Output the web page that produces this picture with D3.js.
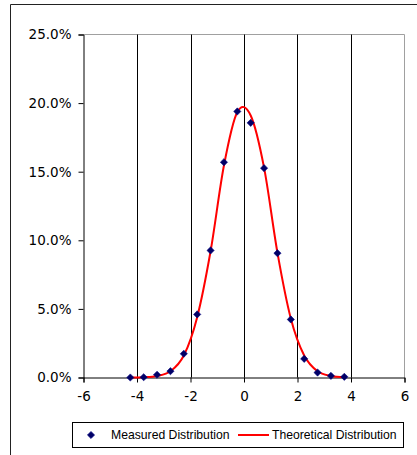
<!DOCTYPE html>
<html><head><meta charset="utf-8">
<script src="https://cdn.jsdelivr.net/npm/d3@7"></script>
<style>html,body{margin:0;padding:0;background:#fff;}svg{display:block;}</style>
</head><body>
<script>
const xValues = [-4.25,-3.75,-3.25,-2.75,-2.25,-1.75,-1.25,-0.75,-0.25,0.25,0.75,1.25,1.75,2.25,2.75,3.25,3.75];
const measured = [0.0000,0.0002,0.0020,0.0046,0.0173,0.0460,0.0926,0.1569,0.1939,0.1856,0.1526,0.0906,0.0423,0.0136,0.0036,0.0012,0.0005];
const theoretical = [0.0000,0.0002,0.0011,0.0045,0.0160,0.0440,0.0920,0.1545,0.1935,0.1910,0.1530,0.0910,0.0430,0.0160,0.0045,0.0011,0.0002];
const xTicks = [-6,-4,-2,0,2,4,6];
const yTicks = [0,0.05,0.10,0.15,0.20,0.25];
const gridX = [-4,-2,0,2,4];
const seriesNames = ["Measured Distribution","Theoretical Distribution"];

const W = 417, H = 455;
const svg = d3.select("body").append("svg").attr("width", W).attr("height", H);
svg.append("rect").attr("width", W).attr("height", H).attr("fill", "#fff");

// outer frame (top and left visible)
svg.append("path").attr("d", "M10.5,455 L10.5,4.5 L417,4.5").attr("fill","none").attr("stroke","#222").attr("stroke-width",1);

const x = d3.scaleLinear().domain([-6,6]).range([83.5,404.5]);
const y = d3.scaleLinear().domain([0,0.25]).range([377.5,34.5]);

// plot border top/right (gray)
svg.append("path").attr("d", `M${x(-6)},${y(0.25)} L${x(6)},${y(0.25)} L${x(6)},${y(0)}`)
  .attr("fill","none").attr("stroke","#a0a0a0").attr("stroke-width",1);

// vertical gridlines
svg.append("g").selectAll("line").data(gridX).join("line")
  .attr("x1", d=>Math.round(x(d))+0.5).attr("x2", d=>Math.round(x(d))+0.5)
  .attr("y1", y(0.25)).attr("y2", y(0))
  .attr("stroke","#000").attr("stroke-width",1);

// axes
const yAxis = d3.axisLeft(y).tickValues(yTicks).tickFormat(d3.format(".1%")).tickSize(5).tickPadding(7);
const gy = svg.append("g").attr("transform", `translate(${x(-6)},0)`).call(yAxis);
gy.select(".domain").attr("stroke","#000");
gy.selectAll(".tick line").attr("stroke","#000");
gy.selectAll("text").attr("font-family","'DejaVu Sans', sans-serif").attr("font-size","13.5px").attr("fill","#000");

const xAxis = d3.axisBottom(x).tickValues(xTicks).tickFormat(d=>String(d).replace("−","-")).tickSize(5).tickPadding(9);
const gx = svg.append("g").attr("transform", `translate(0,${y(0)})`).call(xAxis);
gx.select(".domain").attr("stroke","#000");
gx.selectAll(".tick line").attr("stroke","#000");
gx.selectAll("text").attr("font-family","'DejaVu Sans', sans-serif").attr("font-size","13.5px").attr("fill","#000");

// theoretical curve
const pts = xValues.map((v,i)=>[v, theoretical[i]]);
const line = d3.line().x(d=>x(d[0])).y(d=>y(d[1])).curve(d3.curveCardinal.tension(0));
svg.append("path").datum(pts).attr("d", line)
  .attr("fill","none").attr("stroke","#ff0000").attr("stroke-width",2);

// measured markers
const diamond = d3.symbol().type(d3.symbolDiamond2 || d3.symbolDiamond).size(28);
const diamondPath = "M0,-3.6 L3.6,0 L0,3.6 L-3.6,0 Z";
svg.append("g").selectAll("path").data(xValues.map((v,i)=>[v, measured[i]])).join("path")
  .attr("d", diamondPath)
  .attr("transform", d=>`translate(${x(d[0])},${y(d[1])})`)
  .attr("fill","#000066").attr("stroke","#000080").attr("stroke-width",0.6);

// legend
const lg = svg.append("g");
lg.append("rect").attr("x",72.5).attr("y",422.5).attr("width",331).attr("height",25)
  .attr("fill","#fff").attr("stroke","#000").attr("stroke-width",1);
lg.append("path").attr("d", diamondPath).attr("transform","translate(91,435)")
  .attr("fill","#000066").attr("stroke","#000080").attr("stroke-width",0.6);
lg.append("text").attr("x",111).attr("y",439.3).text(seriesNames[0])
  .attr("font-family","'Liberation Sans', Arial, sans-serif").attr("font-size","12.2px").attr("fill","#000");
lg.append("line").attr("x1",238).attr("x2",269).attr("y1",435).attr("y2",435)
  .attr("stroke","#ff0000").attr("stroke-width",2);
lg.append("text").attr("x",272).attr("y",439.3).text(seriesNames[1])
  .attr("font-family","'Liberation Sans', Arial, sans-serif").attr("font-size","12.2px").attr("fill","#000");
</script>
</body></html>
